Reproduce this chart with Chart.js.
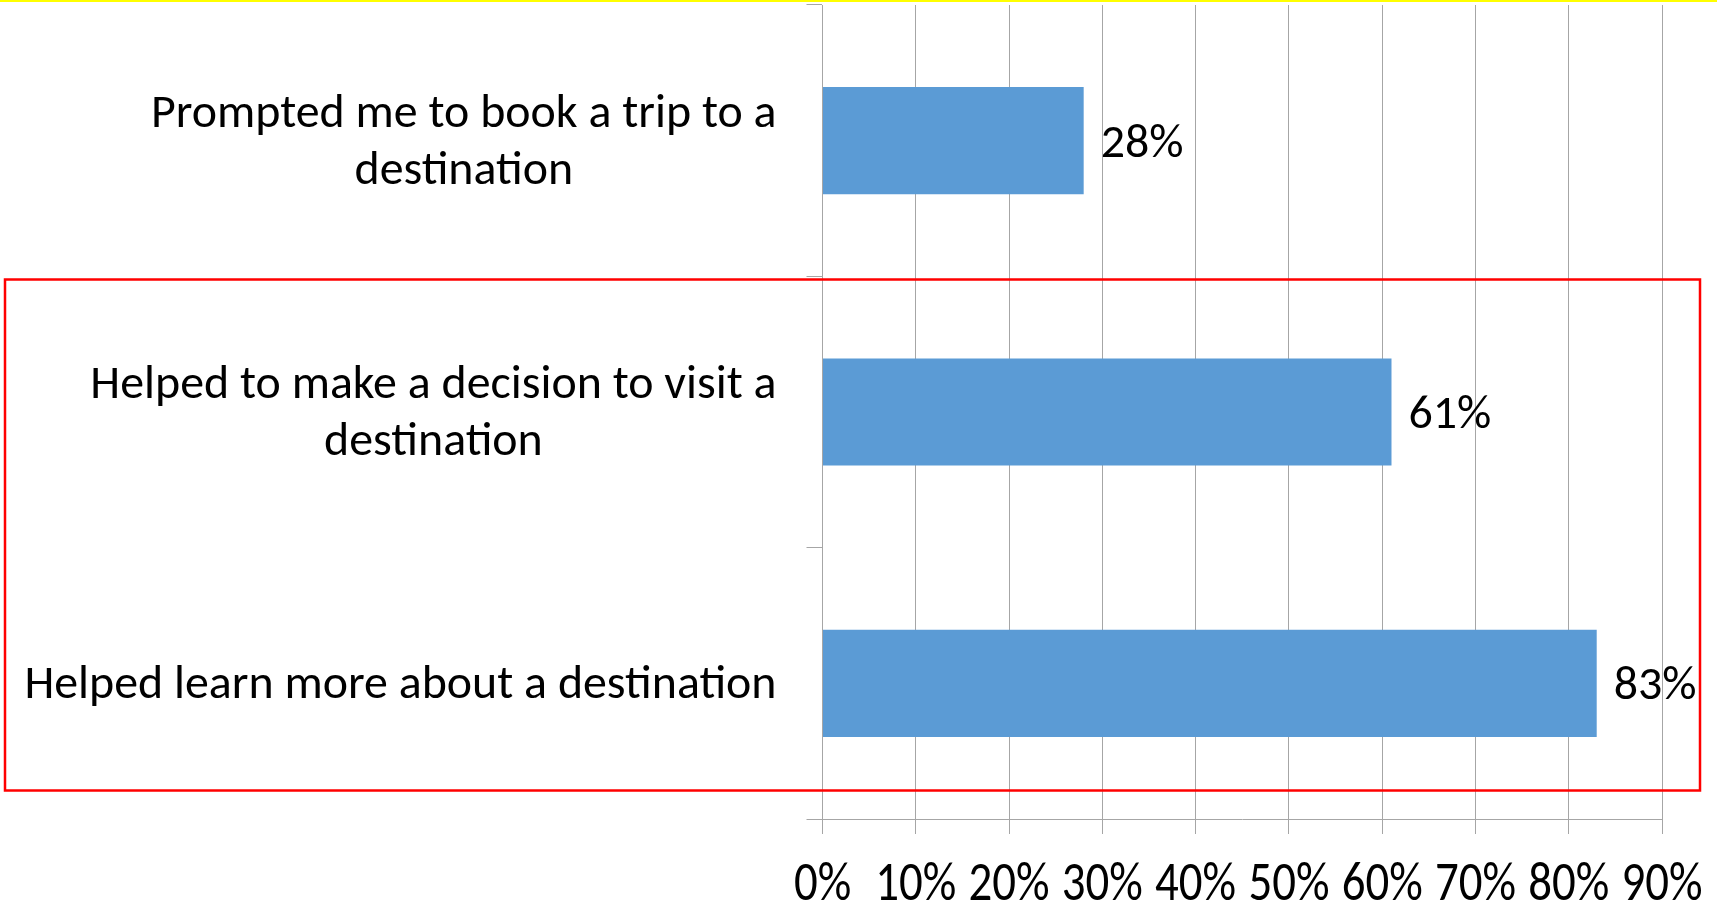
<!DOCTYPE html>
<html>
<head>
<meta charset="utf-8">
<script src="https://cdn.jsdelivr.net/npm/chart.js@4/dist/chart.umd.min.js"></script>
<style>
  html, body { margin: 0; padding: 0; background: #ffffff; }
  #wrap { position: relative; width: 1717px; height: 902px; }
</style>
</head>
<body>
<div id="wrap"><canvas id="chart" width="1717" height="902"></canvas></div>
<script>
// Survey answers, top to bottom
const categories = [
  ["Prompted me to book a trip to a", "destination"],
  ["Helped to make a decision to visit a", "destination"],
  ["Helped learn more about a destination"]
];
const shares = [28, 61, 83];
const tickValues = [0, 10, 20, 30, 40, 50, 60, 70, 80, 90];

const GRID = '#a6a6a6';
const BAR = '#5b9bd5';

// Pick font sizes so the text widths match the original slide
const measureCtx = document.createElement('canvas').getContext('2d');
function sizeFor(family, text, targetWidth) {
  measureCtx.font = `100px ${family}`;
  return Math.round(100 * targetWidth / measureCtx.measureText(text).width * 10) / 10;
}
const labelFamily = 'Carlito, "Open Sans", sans-serif';
const labelSize = sizeFor(labelFamily, "Helped learn more about a destination", 752);
// axis numbers on the slide are squeezed sideways: tall glyphs, narrow advance
const tickSize = 56;
measureCtx.font = `${tickSize}px ${labelFamily}`;
const tickSqueeze = 81 / measureCtx.measureText("90%").width;

// Category labels: each block right aligned, lines centred inside the block
const categoryLabels = {
  id: 'categoryLabels',
  afterDraw(chart) {
    const { ctx, scales: { y } } = chart;
    const rightEdge = y.right - 46;
    const lineH = 57;
    ctx.save();
    ctx.font = `${labelSize}px ${labelFamily}`;
    ctx.fillStyle = '#000000';
    ctx.textAlign = 'center';
    ctx.textBaseline = 'middle';
    categories.forEach((lines, i) => {
      const cy = y.getPixelForTick(i) + 3;
      const widest = Math.max(...lines.map(l => ctx.measureText(l).width));
      const cx = rightEdge - widest / 2;
      lines.forEach((line, j) => {
        ctx.fillText(line, cx, cy + (j - (lines.length - 1) / 2) * lineH);
      });
    });
    ctx.restore();
  }
};

// Percent labels under the x axis
const axisLabels = {
  id: 'axisLabels',
  afterDraw(chart) {
    const { ctx, scales: { x } } = chart;
    ctx.save();
    ctx.font = `${tickSize}px ${labelFamily}`;
    ctx.fillStyle = '#000000';
    ctx.textAlign = 'center';
    ctx.textBaseline = 'alphabetic';
    tickValues.forEach(v => {
      const px = x.getPixelForValue(v);
      ctx.save();
      ctx.translate(px, 900);
      ctx.scale(tickSqueeze, 1);
      ctx.fillText(v + '%', 0, 0);
      ctx.restore();
    });
    ctx.restore();
  }
};

// Value labels to the right of each bar
const valueLabels = {
  id: 'valueLabels',
  afterDatasetsDraw(chart) {
    const { ctx } = chart;
    const meta = chart.getDatasetMeta(0);
    ctx.save();
    ctx.font = `${labelSize}px ${labelFamily}`;
    ctx.fillStyle = '#000000';
    ctx.textAlign = 'left';
    ctx.textBaseline = 'middle';
    meta.data.forEach((bar, i) => {
      ctx.fillText(shares[i] + '%', bar.x + 17, bar.y + 4);
    });
    ctx.restore();
  }
};

// Slide highlights: yellow rule at the top, red box round the two "helped" answers
const highlights = {
  id: 'highlights',
  afterDraw(chart) {
    const { ctx } = chart;
    ctx.save();
    ctx.fillStyle = '#ffff00';
    ctx.fillRect(0, 0, 1717, 2);
    ctx.strokeStyle = '#ff0000';
    ctx.lineWidth = 2.5;
    ctx.strokeRect(5, 279.5, 1695, 511);
    ctx.restore();
  }
};

new Chart(document.getElementById('chart'), {
  type: 'bar',
  data: {
    labels: categories,
    datasets: [{
      data: shares,
      backgroundColor: BAR,
      borderWidth: 0,
      categoryPercentage: 1,
      barPercentage: 0.395
    }]
  },
  options: {
    indexAxis: 'y',
    responsive: false,
    animation: false,
    devicePixelRatio: 1,
    layout: { padding: { top: 5, right: 55, left: 0, bottom: 0 } },
    plugins: {
      legend: { display: false },
      tooltip: { enabled: false }
    },
    scales: {
      x: {
        min: 0,
        max: 90,
        afterBuildTicks(scale) {
          scale.ticks = tickValues.map(v => ({ value: v }));
        },
        afterFit(scale) { scale.height = 83; },
        grid: {
          color: GRID,
          lineWidth: 1,
          tickLength: 15,
          drawTicks: true
        },
        border: { color: GRID, width: 1 },
        ticks: { display: false }
      },
      y: {
        afterFit(scale) { scale.width = 822.5; },
        grid: {
          color: GRID,
          lineWidth: 1,
          drawOnChartArea: false,
          tickLength: 16,
          offset: true
        },
        border: { color: GRID, width: 1 },
        ticks: { display: false }
      }
    }
  },
  plugins: [valueLabels, categoryLabels, axisLabels, highlights]
});
</script>
</body>
</html>
